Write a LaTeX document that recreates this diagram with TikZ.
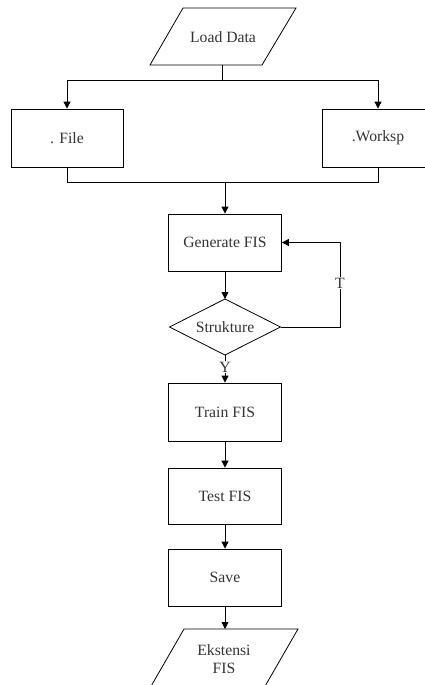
\documentclass[tikz,border=0pt]{standalone}
\usepackage{fontspec}
\setmainfont{Liberation Serif}
\usetikzlibrary{arrows.meta}
\begin{document}
\begin{tikzpicture}[x=1pt,y=-1pt,
  line width=0.8pt,
  every node/.style={font=\fontsize{15.7}{18}\selectfont, text=black!80},
  box/.style={draw, rectangle, inner sep=0pt, minimum width=113pt, minimum height=57pt},
  arr/.style={-{Triangle[length=7pt,width=7pt]}},
  lbl/.style={fill=white, inner sep=1pt}]
\useasboundingbox (0,0) rectangle (425,685);
% Load Data
\draw (183,8) -- (296,8) -- (262,65) -- (150,65) -- cycle;
\node (load) at (223,37) {Load Data};
\coordinate (loadb) at (222,65);
\coordinate (split) at (222,80);
\coordinate (splitL) at (67,80);
\coordinate (splitR) at (378,80);
% file boxes
\node[box, minimum width=112pt, minimum height=58pt] (file) at (67,138) {. File};
\node[box, minimum width=112pt, minimum height=58pt] (work) at (378,138) {.Worksp};
\draw (loadb) -- (split);
\draw (splitL) -- (splitR);
\draw[arr] (splitL) -- (file.north);
\draw[arr] (splitR) -- (work.north);
\coordinate (mergeL) at (67,182);
\coordinate (mergeR) at (378,182);
\coordinate (merge) at (225,182);
\draw (file.south) -- (mergeL) -- (mergeR) -- (work.south);
% Generate
\node[box] (gen) at (225,242.5) {Generate FIS};
\draw[arr] (merge) -- (gen.north);
% Diamond
\draw (225,299) -- (280.5,327) -- (225,355) -- (169.5,327) -- cycle;
\node (dia) at (225,327) {Strukture};
\coordinate (diaT) at (225,299);
\coordinate (diaR) at (280.5,327);
\coordinate (diaB) at (225,355);
\draw[arr] (gen.south) -- (diaT);
\coordinate (loopA) at (340,327);
\coordinate (loopB) at (340,242.5);
\draw[arr] (diaR) -- (loopA) -- (loopB) -- (gen.east);
\node[lbl] (t) at (340,283) {T};
% Train
\node[box, minimum height=58pt] (train) at (225,412) {Train FIS};
\draw[arr] (diaB) -- (train.north);
\node[lbl] (y) at (225,367) {Y};
% Test
\node[box, minimum height=56pt] (test) at (225,496) {Test FIS};
\draw[arr] (train.south) -- (test.north);
% Save
\node[box] (save) at (225,577.5) {Save};
\draw[arr] (test.south) -- (save.north);
% Ekstensi
\draw (184,629) -- (298,629) -- (264,688) -- (150,688) -- cycle;
\node[align=center] (eks) at (224,659) {Ekstensi\\FIS};
\coordinate (eksT) at (225,629);
\draw[arr] (save.south) -- (eksT);
\end{tikzpicture}
\end{document}
